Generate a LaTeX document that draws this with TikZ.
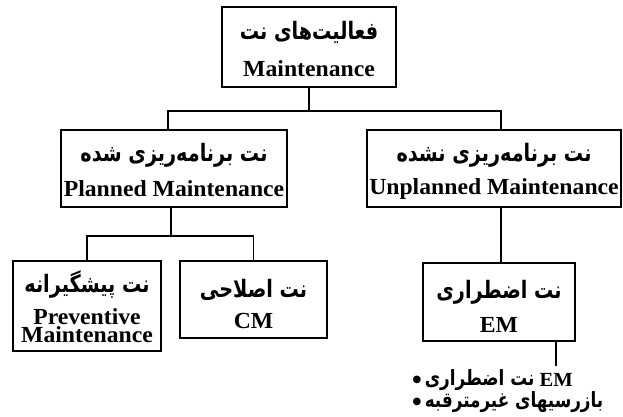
\documentclass[tikz,border=0pt]{standalone}
\usepackage{fontspec}
\setmainfont{Liberation Serif}
\newfontfamily\fa[Script=Arabic,FakeStretch=0.8]{DejaVu Sans}
\newfontfamily\en[FakeStretch=1.03]{Liberation Serif}
\newfontfamily\sym{DejaVu Sans}
\TeXXeTstate=1
\begin{document}
\begin{tikzpicture}[x=1pt,y=-1pt,
  box/.style={draw, line width=1.2pt, inner sep=0pt},
  conn/.style={line width=1.2pt},
  fatext/.style={font={\fa\bfseries\fontsize{24}{26}\selectfont}, inner sep=0pt},
  entext/.style={font={\en\bfseries\fontsize{23}{25}\selectfont}, inner sep=0pt},
  listfa/.style={font={\fa\bfseries\fontsize{21}{24}\selectfont}, inner sep=0pt},
  listen/.style={font={\en\bfseries\fontsize{20}{24}\selectfont}, inner sep=0pt},
  bul/.style={font={\sym\fontsize{10}{12}\selectfont}, inner sep=0pt}]
\useasboundingbox (0,0) rectangle (623,417);
% boxes
\node[box, minimum width=174pt, minimum height=80pt] (top) at (309,47) {};
\node[box, minimum width=226pt, minimum height=77pt] (planned) at (174,168.5) {};
\node[box, minimum width=254pt, minimum height=77pt] (unplanned) at (494,168.5) {};
\node[box, minimum width=148pt, minimum height=90pt] (prev) at (87,306) {};
\node[box, minimum width=147pt, minimum height=77pt] (cm) at (253.5,299.5) {};
\node[box, minimum width=152pt, minimum height=78pt] (em) at (499,302) {};
% texts
\node[fatext] (t1) at ([yshift=15pt]top.center) {\beginR فعالیت^^^^200cهای نت\endR};
\node[entext] (t2) at ([yshift=-22pt]top.center) {Maintenance};
\node[fatext] (t3) at ([yshift=13.5pt]planned.center) {\beginR نت برنامه^^^^200cریزی شده\endR};
\node[entext] (t4) at ([yshift=-20pt]planned.center) {Planned Maintenance};
\node[fatext] (t5) at ([yshift=13.5pt]unplanned.center) {\beginR نت برنامه^^^^200cریزی نشده\endR};
\node[entext] (t6) at ([yshift=-20pt]unplanned.center) {Unplanned Maintenance};
\node[fatext] (t7) at ([yshift=21pt]prev.center) {\beginR نت پیشگیرانه\endR};
\node[entext] (t8) at ([yshift=-11pt]prev.center) {Preventive};
\node[entext] (t9) at ([yshift=-29pt]prev.center) {Maintenance};
\node[fatext] (t10) at ([yshift=10pt]cm.center) {\beginR نت اصلاحی\endR};
\node[entext] (t11) at ([yshift=-21pt]cm.center) {CM};
\node[fatext] (t12) at ([yshift=10pt]em.center) {\beginR نت اضطراری\endR};
\node[entext] (t13) at ([yshift=-23pt]em.center) {EM};
% connectors
\coordinate (j1) at (309,111);
\draw[conn] (top.south) -- (j1);
\draw[conn] ([xshift=-6pt]planned.north) |- (j1) -| ([xshift=7pt]unplanned.north);
\coordinate (j2) at (171,236);
\draw[conn] (planned.south -| j2) -- (j2);
\draw[conn] (prev.north) |- (j2) -| (cm.north);
\draw[conn] ([xshift=2pt]em.north |- unplanned.south) -- ([xshift=2pt]em.north);
\coordinate (e1) at (556,366);
\draw[conn] (em.south -| e1) -- (e1);
% bullet list
\node[bul] (d1) at (417,380) {●};
\node[listfa, anchor=west] (b1) at ([xshift=3pt]d1.east) {\beginR نت اضطراری\endR};
\node[listen, anchor=west] (m1) at ([xshift=5pt]b1.east) {EM};
\node[bul] (d2) at (417,402) {●};
\node[listfa, anchor=west] (b2) at ([xshift=3pt]d2.east) {\beginR بازرسیهای غیرمترقبه\endR};
\end{tikzpicture}
\end{document}
